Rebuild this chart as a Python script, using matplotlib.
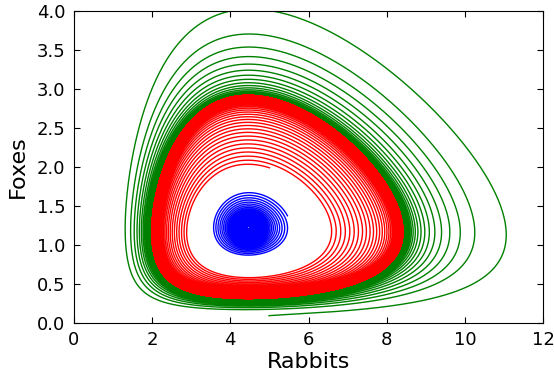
import numpy as np
import matplotlib
matplotlib.use("Agg")
import matplotlib.pyplot as plt

# Lotka-Volterra style systems, pushed towards a target cycle / the fixed point
d_coef = 1.0
h_cycle = 1.12   # level of the limit cycle
k_out = 0.085    # pull from outside the cycle
h_fast = 2.3     # above this level the pull gets much stronger
k_in = 0.06      # push from inside the cycle
k_damp = 0.067   # damping towards the fixed point

# one entry per curve: start point (rabbits, foxes), equilibrium, time span, colour
starts_x = [4.99, 5.00, 5.46]
starts_y = [0.094, 1.99, 1.375]
eq_x = [4.46, 4.46, 4.47]
eq_y = [1.17, 1.17, 1.22]
b_ratio = [1.72, 1.65, 1.6]
t_end = [100.0, 150.0, 95.0]
kinds = ["out", "in", "damp"]
colors = ["green", "red", "blue"]


def make_rhs(xe, ye, b, kind):
    a = b * ye
    c = d_coef * xe
    h_min = d_coef * (xe - xe * np.log(xe)) + b * (ye - ye * np.log(ye))

    def rhs(s):
        x, y = s
        hx = d_coef - c / x
        hy = b - a / y
        h = d_coef * x - c * np.log(x) + b * y - a * np.log(y) - h_min
        if kind == "out":
            rate = -k_out * (h - h_cycle) * (1.0 + (h / h_fast) ** 10)
        elif kind == "in":
            rate = k_in * h * (h_cycle - h)
        else:
            rate = -k_damp * h
        g2 = hx * hx + hy * hy + 1e-14
        return np.array([x * (a - b * y) + rate * hx / g2,
                         y * (d_coef * x - c) + rate * hy / g2])
    return rhs


def integrate(rhs, x0, y0, t1, dt=0.004):
    n = int(t1 / dt)
    out = np.empty((n + 1, 2))
    s = np.array([x0, y0])
    out[0] = s
    for i in range(n):
        k1 = rhs(s)
        k2 = rhs(s + 0.5 * dt * k1)
        k3 = rhs(s + 0.5 * dt * k2)
        k4 = rhs(s + dt * k3)
        s = s + dt / 6.0 * (k1 + 2 * k2 + 2 * k3 + k4)
        out[i + 1] = s
    return out


fig = plt.figure(figsize=(5.54, 3.80), dpi=100)
ax = fig.add_axes([0.133, 0.15, 0.848, 0.821])

for i in range(len(colors)):
    rhs = make_rhs(eq_x[i], eq_y[i], b_ratio[i], kinds[i])
    path = integrate(rhs, starts_x[i], starts_y[i], t_end[i])
    ax.plot(path[:, 0], path[:, 1], color=colors[i], lw=1.0)

ax.set_xlim(0, 12)
ax.set_ylim(0, 4)
ax.set_xticks(np.arange(0, 13, 2))
ax.set_yticks(np.arange(0, 4.01, 0.5))
ax.set_yticklabels(["%.1f" % v for v in np.arange(0, 4.01, 0.5)])
ax.tick_params(direction="in", top=True, right=True, labelsize=13, length=4, pad=6)
ax.set_xlabel("Rabbits", fontsize=16, labelpad=2)
ax.set_ylabel("Foxes", fontsize=16, labelpad=6)

fig.savefig("out.png", dpi=100, facecolor="white")
